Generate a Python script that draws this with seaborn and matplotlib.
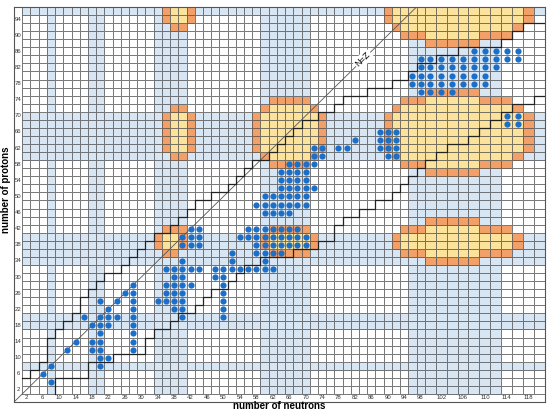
import numpy as np
import matplotlib
matplotlib.use("Agg")
import matplotlib.pyplot as plt
from matplotlib.colors import ListedColormap
import seaborn as sns

# siatka: parzyste N (kolumny) i Z (wiersze)
neutrons = list(range(2, 121, 2))
protons = list(range(2, 97, 2))

# pasma (niebieskie kolumny i wiersze)
band_n = [8, 18, 20, 34, 36, 38, 40, 60, 62, 64, 66, 68, 70,
          96, 98, 100, 102, 104, 106, 108, 110, 112]
band_z = [8, 18, 20, 34, 36, 38, 40, 60, 62, 64, 66, 68, 70, 96]

# wyspy: (Z od, Z do, N od, N do, N zolte od, N zolte do); reszta wiersza pomaranczowa
islands = [
    (96, 96, 36, 42, 38, 40), (94, 94, 36, 42, 38, 40), (92, 92, 38, 40, 0, 0),
    (72, 72, 38, 40, 0, 0), (62, 70, 36, 42, 38, 40), (60, 60, 38, 40, 0, 0),
    (42, 42, 36, 40, 0, 0), (38, 40, 34, 40, 36, 38), (36, 36, 36, 38, 0, 0),
    (74, 74, 62, 70, 0, 0), (72, 72, 60, 72, 62, 70), (62, 70, 58, 74, 60, 72),
    (60, 60, 60, 72, 62, 70), (58, 58, 62, 70, 0, 0),
    (42, 42, 62, 70, 0, 0), (38, 40, 60, 72, 62, 70), (36, 36, 62, 70, 0, 0),
    (94, 96, 90, 118, 92, 116), (92, 92, 92, 116, 94, 114),
    (90, 90, 94, 114, 100, 108), (88, 88, 100, 108, 0, 0),
    (76, 76, 100, 108, 0, 0), (74, 74, 94, 114, 100, 108), (72, 72, 92, 116, 94, 114),
    (62, 70, 90, 118, 92, 116), (60, 60, 92, 116, 94, 114),
    (58, 58, 94, 114, 100, 108), (56, 56, 100, 108, 0, 0),
    (44, 44, 100, 108, 0, 0), (42, 42, 94, 114, 100, 108), (38, 40, 92, 116, 94, 114),
    (36, 36, 94, 114, 100, 108), (34, 34, 100, 108, 0, 0),
]

# punkty (Z: lista N)
dots = {
    4: [8], 6: [6], 8: [8, 20], 10: [20, 22], 12: [12, 18, 20, 28],
    14: [14, 18, 20, 28], 16: [20, 28], 18: [18, 20, 22, 28],
    20: [16, 20, 22, 24, 28, 40, 50], 22: [22, 28, 38, 40, 50],
    24: [20, 24, 28, 34, 36, 38, 40, 50], 26: [26, 28, 36, 38, 40, 50],
    28: [28, 36, 38, 40, 42, 50], 30: [38, 40, 48, 50],
    32: [36, 38, 40, 42, 44, 48, 50, 52, 54, 56, 58, 60, 62],
    34: [40, 52, 60], 36: [52, 58, 60, 62, 64],
    38: [40, 42, 44, 58, 60, 62, 64, 66, 68, 70],
    40: [40, 42, 44, 54, 56, 58, 60, 62, 64, 66, 68, 70],
    42: [42, 44, 56, 58, 60, 62, 64, 66, 68],
    46: [60, 62, 64, 66], 48: [58, 60, 62, 64, 66, 68, 70],
    50: [60, 62, 64, 66, 68, 70], 52: [64, 66, 68, 70, 72],
    54: [64, 66, 68, 70], 56: [64, 66, 68, 70], 58: [66, 68, 70, 72],
    60: [72, 74, 90, 92], 62: [72, 74, 78, 80, 88, 90, 92],
    64: [82, 88, 90, 92], 66: [88, 90, 92], 68: [114, 116], 70: [114, 116],
    76: [98, 100, 102, 104], 78: [96, 98, 100, 102, 104, 106, 108, 110],
    80: [96, 98, 100, 102, 104, 106, 108, 110],
    82: [98, 100, 102, 104, 106, 108, 110, 112],
    84: [98, 100, 102, 104, 106, 108, 110, 112, 114, 116],
    86: [108, 110, 112, 114, 116],
}

# schodkowe granice (krawedzie komorek: N, Z)
upper_n = [1, 3, 3, 5, 5, 7, 7, 9, 9, 11, 11, 13, 13, 15, 15, 17, 17, 19, 19, 21, 21, 25, 25,
           27, 27, 29, 29, 31, 31, 33, 33, 37, 37, 39, 39, 41, 41, 43, 43, 47, 47, 51, 51,
           53, 53, 55, 55, 57, 57, 61, 61, 63, 63, 65, 65, 67, 67, 69, 69, 73, 73, 77, 77,
           79, 79, 85, 85, 91, 91, 95, 95, 97, 97, 101, 101, 105, 105, 113, 113, 115, 115,
           117, 117, 121]
upper_z = [5, 5, 7, 7, 9, 9, 15, 15, 17, 17, 19, 19, 21, 21, 25, 25, 27, 27, 29, 29, 31, 31, 33,
           33, 35, 35, 37, 37, 39, 39, 41, 41, 43, 43, 45, 45, 47, 47, 49, 49, 51, 51, 53,
           53, 55, 55, 57, 57, 59, 59, 61, 61, 63, 63, 65, 65, 67, 67, 69, 69, 71, 71, 73,
           73, 75, 75, 77, 77, 79, 79, 81, 81, 83, 83, 85, 85, 87, 87, 89, 89, 91, 91,
           93, 93]
lower_n = [9, 9, 17, 17, 23, 23, 31, 31, 33, 33, 37, 37, 39, 39, 43, 43, 45, 45, 47, 47, 51, 51,
           53, 53, 55, 55, 59, 59, 67, 67, 73, 73, 77, 77, 79, 79, 83, 83, 87, 87,
           91, 91, 93, 93, 95, 95, 97, 97, 99, 99, 101, 101, 103, 103, 107, 107, 109, 109,
           111, 111, 113, 113, 115, 115, 119, 119, 121]
lower_z = [1, 5, 5, 9, 9, 11, 11, 15, 15, 17, 17, 19, 19, 21, 21, 23, 23, 25, 25, 27, 27, 29,
           29, 31, 31, 33, 33, 35, 35, 37, 37, 39, 39, 43, 43, 45, 45, 47, 47, 49,
           49, 51, 51, 53, 53, 55, 55, 57, 57, 59, 59, 61, 61, 63, 63, 65, 65, 67, 67, 69,
           69, 71, 71, 73, 73, 75, 75]

n_ticks = list(range(2, 119, 4))
z_ticks = list(range(2, 95, 4))

# macierz kategorii: 0 bialy, 1 niebieski, 2 zolty, 3 pomaranczowy
mat = np.zeros((len(protons), len(neutrons)))
for n in band_n:
    mat[:, neutrons.index(n)] = 1
for z in band_z:
    mat[protons.index(z), :] = 1
for z0, z1, n0, n1, y0, y1 in islands:
    for z in range(z0, z1 + 1, 2):
        r = protons.index(z)
        for n in range(n0, n1 + 1, 2):
            mat[r, neutrons.index(n)] = 3
        if y0:
            for n in range(y0, y1 + 1, 2):
                mat[r, neutrons.index(n)] = 2

cmap = ListedColormap(["#ffffff", "#d8e6f4", "#fbe39c", "#f3a068"])


def hx(n):
    return (np.asarray(n, float) - 1) / 2


# szersze kolumny od N=100
WIDE = 1.331


def fwd(x):
    x = np.asarray(x, float)
    return np.where(x <= 49, x, 49 + (x - 49) * WIDE)


def inv(x):
    x = np.asarray(x, float)
    return np.where(x <= 49, x, 49 + (x - 49) / WIDE)


fig = plt.figure(figsize=(5.5, 4.15), dpi=100)
ax = fig.add_axes([14 / 550, 13 / 415, 531 / 550, 395 / 415])
sns.heatmap(mat, ax=ax, cmap=cmap, vmin=-0.5, vmax=3.5, cbar=False,
            linewidths=0.6, linecolor=(0.3, 0.3, 0.3, 0.75),
            xticklabels=False, yticklabels=False)
ax.set_xscale("function", functions=(fwd, inv))
ax.set_xlim(-1, len(neutrons))
ax.set_ylim(-1, len(protons))
for s in ax.spines.values():
    s.set_visible(True)
    s.set_color("#555555")
    s.set_linewidth(0.8)
ax.set_xticks([])
ax.set_yticks([])
ax.minorticks_off()

# linia N=Z i granice
ax.plot([-1, len(protons)], [-1, len(protons)], color="#555555", lw=0.6, zorder=3)
ax.plot(hx(upper_n), hx(upper_z), color="#222222", lw=0.9, zorder=4)
ax.plot(hx(lower_n), hx(lower_z), color="#222222", lw=0.9, zorder=4)

dot_n = [n for z, ns in dots.items() for n in ns]
dot_z = [z for z, ns in dots.items() for n in ns]
sns.scatterplot(x=hx(dot_n), y=hx(dot_z), ax=ax, color="#1b6fc8", s=20,
                linewidth=0, zorder=5, legend=False)
ax.set_xlabel("")
ax.set_ylabel("")

for n in n_ticks:
    ax.text(hx(n), -0.5, str(n), ha="center", va="center", fontsize=4.3,
            color="#333333", family="Liberation Sans")
for z in z_ticks:
    ax.text(-0.5, hx(z), str(z), ha="center", va="center", fontsize=4.3,
            color="#333333", family="Liberation Sans")

ax.text(hx(84), hx(84), "N=Z", rotation=44.5, rotation_mode="anchor", ha="center",
        va="center", fontsize=6.5, family="Liberation Sans", zorder=6,
        bbox=dict(facecolor="white", edgecolor="none", pad=1.0))

fig.text(279.5 / 550, 1 - 406 / 415, "number of neutrons", ha="center", va="center",
         fontsize=7, fontweight="bold", family="Liberation Sans")
fig.text(6 / 550, 1 - 190 / 415, "number of protons", ha="center", va="center",
         rotation=90, fontsize=7, fontweight="bold", family="Liberation Sans")

fig.savefig("out.png", dpi=100)
